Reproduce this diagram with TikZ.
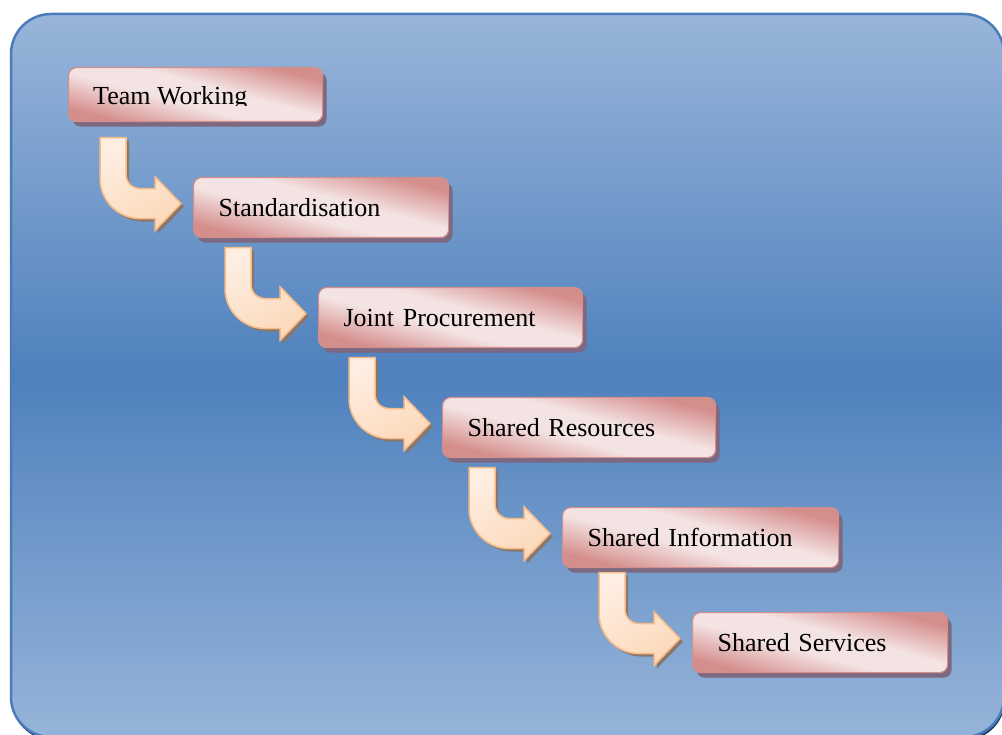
\documentclass[tikz,border=0pt]{standalone}
\usepackage{fontspec}
\setmainfont{Liberation Serif}
\usetikzlibrary{shadows,calc}
\definecolor{bgtop}{HTML}{98B5D9}
\definecolor{bgmid}{HTML}{4F81BD}
\definecolor{bgbot}{HTML}{96B4D9}
\definecolor{bgedge}{HTML}{4A7CBB}
\definecolor{bgshadow}{HTML}{1F3A5E}
\definecolor{boxdark}{HTML}{D48E8C}
\definecolor{boxlight}{HTML}{F4E3E3}
\definecolor{boxedge}{HTML}{D38F8D}
\definecolor{boxshadow}{HTML}{7C6880}
\definecolor{arrlight}{HTML}{FEEEE2}
\definecolor{arrdark}{HTML}{FCD9BA}
\definecolor{arredge}{HTML}{F8BA86}
\definecolor{arrshadow}{HTML}{8A776C}
\pgfdeclareverticalshading{boxshade}{100bp}{color(0bp)=(boxdark); color(26bp)=(boxdark); color(44bp)=(boxlight); color(56bp)=(boxlight); color(74bp)=(boxdark); color(100bp)=(boxdark)}
\newcommand\bentarrow[1]{%
  \path[arrowshape, shift={($(#1.west)+(-12,-4)$)}]
    (-81,-66) -- (-55,-66) -- (-55,-30)
    .. controls (-55,-21) and (-49,-15) .. (-40,-15)
    -- (-26,-15) -- (-26,-27) -- (0,0) -- (-26,27) -- (-26,15) -- (-41,15)
    .. controls (-63,15) and (-81,-3) .. (-81,-25) -- cycle;}
\begin{document}
\begin{tikzpicture}[x=1pt,y=-1pt,
  stepbox/.style={rectangle, rounded corners=8pt, draw=boxedge, line width=1.2pt,
    shading=boxshade, shading angle=-15,
    drop shadow={shadow xshift=4pt, shadow yshift=-5pt, fill=boxshadow, opacity=1},
    anchor=north west, inner xsep=25pt, inner ysep=0pt, minimum height=60pt,
    text height=17pt, text depth=0pt, align=left, text width=#1,
    font=\fontsize{26}{30}\selectfont},
  arrowshape/.style={draw=arredge, line width=1.5pt, line join=miter,
    top color=arrlight, bottom color=arrdark, shading angle=30,
    drop shadow={shadow xshift=3pt, shadow yshift=-3pt, fill=arrshadow, opacity=1}},
  labeltext/.style={font=\fontsize{26}{30}\selectfont, inner sep=0pt, anchor=base west}]
\useasboundingbox (0,0) rectangle (1002,735);
\fill[white] (0,0) rectangle (1002,735);
\begin{scope}
  \clip (0,0) rectangle (1002,735);
  \path[draw=bgedge, line width=2.5pt, rounded corners=40pt,
    top color=bgtop, bottom color=bgbot, middle color=bgmid,
    drop shadow={shadow xshift=1pt, shadow yshift=-3pt, fill=bgshadow, opacity=1}]
    (11,14) rectangle (1004,737);
\end{scope}
% boxes
\node[stepbox=204pt, minimum height=54pt] (b1) at (68,67) {};
\begin{scope}
  \clip (0,0) rectangle (1002,106);
  \node[labeltext] (t1) at (93,105) {Team Working};
\end{scope}
\node[stepbox=205pt] (b2) at (193,177) {Standardisation};
\node[stepbox=214pt] (b3) at (318,287) {Joint Procurement};
\node[stepbox=223pt] (b4) at (442,397) {Shared Resources};
\node[stepbox=226pt] (b5) at (562,507) {Shared Information};
\node[stepbox=205pt] (b6) at (692,612) {Shared Services};
% arrows
\bentarrow{b2}
\bentarrow{b3}
\bentarrow{b4}
\bentarrow{b5}
\bentarrow{b6}
\end{tikzpicture}
\end{document}
